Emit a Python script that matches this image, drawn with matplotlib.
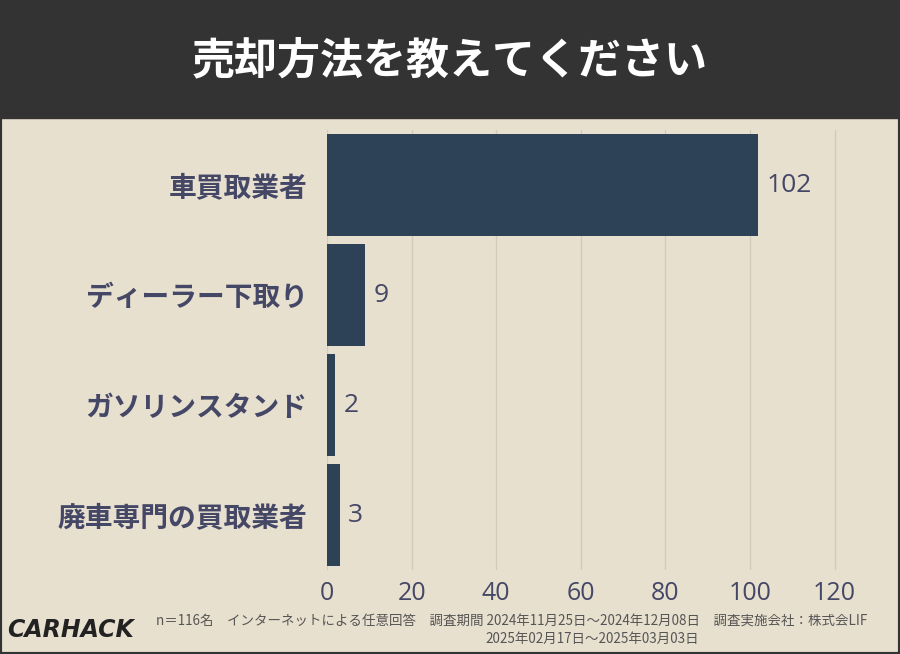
import matplotlib.pyplot as plt
from matplotlib.patches import Rectangle

categories = ["車買取業者", "ディーラー下取り", "ガソリンスタンド", "廃車専門の買取業者"]
values = [102, 9, 2, 3]
xticks = [0, 20, 40, 60, 80, 100, 120]

jp = "Noto Sans CJK JP"
num = "Open Sans"
bg = "#e8e0cf"
bar_color = "#2d4157"
label_color = "#454766"

fig = plt.figure(figsize=(9, 6.54), dpi=100, facecolor=bg)

# title band
fig.patches.append(Rectangle((0, 1 - 118 / 654), 1, 118 / 654, transform=fig.transFigure,
                             color="#333333", zorder=0))
fig.patches.append(Rectangle((0, 0), 1, 1, transform=fig.transFigure, fill=False,
                             edgecolor="#333333", linewidth=3, zorder=0))
fig.text(0.5, 1 - 60 / 654, "売却方法を教えてください", ha="center", va="center",
         color="white", fontsize=31, fontweight="bold", fontfamily=jp)

ax = fig.add_axes([327 / 900, 1 - 570 / 654, 533 / 900, 440 / 654])
ax.set_facecolor(bg)
y = list(range(len(categories)))
ax.barh(y, values, height=0.93, color=bar_color, zorder=2)
ax.set_ylim(len(categories) - 0.5, -0.5)
ax.set_xlim(0, 126)
ax.set_xticks(xticks)
ax.set_xticklabels([str(t) for t in xticks], fontsize=18, color=label_color, fontfamily=num)
ax.set_yticks(y)
ax.set_yticklabels(categories, fontsize=20, fontweight="bold", color=label_color, fontfamily=jp)
ax.tick_params(length=0, pad=8)
ax.tick_params(axis="y", pad=14)
for s in ax.spines.values():
    s.set_visible(False)
ax.grid(axis="x", color="#d2cbbb", linewidth=1, zorder=1)

for yi, v in zip(y, values):
    ax.text(v + 2, yi, str(v), va="center", ha="left", fontsize=19, color=label_color,
            fontfamily=num)

fig.text(0.078, 1 - 630 / 654, "CARHACK", ha="center", va="center", fontsize=17,
         fontweight="bold", fontstyle="italic", color="#222222")
fig.text(0.568, 1 - 622 / 654,
         "n＝116名　インターネットによる任意回答　調査期間 2024年11月25日〜2024年12月08日　調査実施会社：株式会LIF",
         ha="center", va="center", fontsize=9.7, color="#555555", fontfamily=jp)
fig.text(0.658, 1 - 639 / 654, "2025年02月17日〜2025年03月03日",
         ha="center", va="center", fontsize=9.7, color="#555555", fontfamily=jp)

fig.savefig("out.png", dpi=100, facecolor=bg)
